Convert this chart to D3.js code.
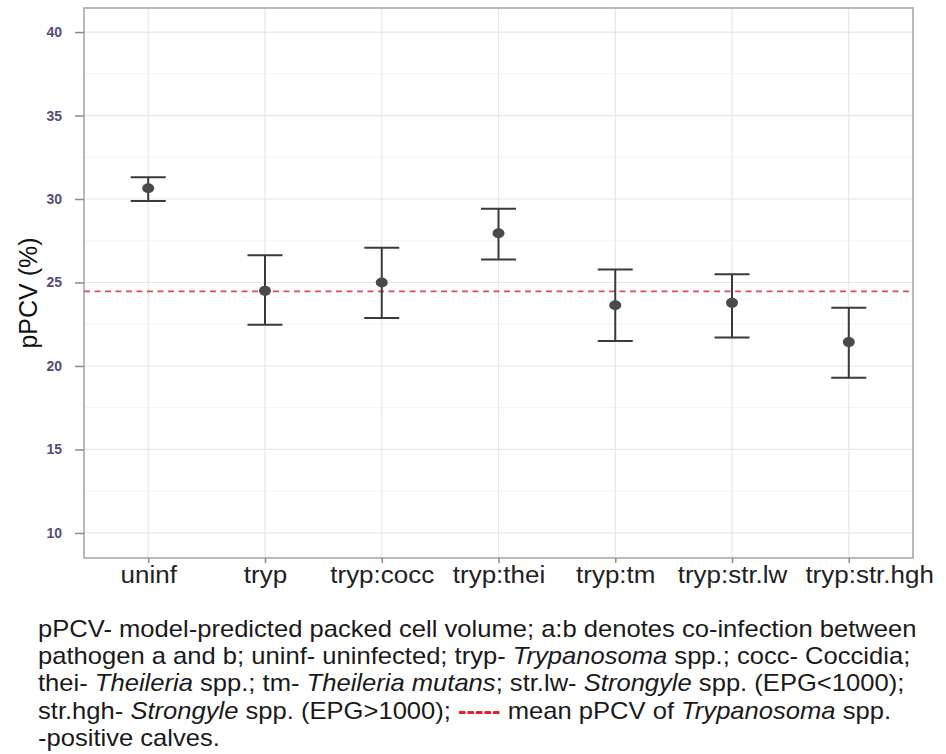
<!DOCTYPE html>
<html>
<head>
<meta charset="utf-8">
<title>pPCV by infection group</title>
<script src="https://cdn.jsdelivr.net/npm/d3@7"></script>
<style>
  body { margin: 0; background: #fff; }
  svg { font-family: "Liberation Sans", Arial, sans-serif; }
</style>
</head>
<body>
<div id="chart"></div>
<script>
// values
var groups = ["uninf", "tryp", "tryp:cocc", "tryp:thei", "tryp:tm", "tryp:str.lw", "tryp:str.hgh"];
var estimate = [30.64, 24.5, 25.0, 27.95, 23.64, 23.78, 21.43];
var lowerCI = [29.88, 22.47, 22.88, 26.38, 21.49, 21.7, 19.29];
var upperCI = [31.3, 26.63, 27.08, 29.42, 25.78, 25.5, 23.49];
var trypMean = 24.47;
var yTicks = [10, 15, 20, 25, 30, 35, 40];
var yMinor = [12.5, 17.5, 22.5, 27.5, 32.5, 37.5];

var W = 946, H = 754;
var panel = {left: 84, right: 913, top: 8, bottom: 558};

var svg = d3.select("#chart").append("svg")
  .attr("width", W).attr("height", H);

var x = d3.scalePoint().domain(groups)
  .range([panel.left, panel.right]).padding(0.55);
var y = d3.scaleLinear().domain([8.5, 41.44])
  .range([panel.bottom, panel.top]);

var rows = groups.map(function(g, i) {
  return {g: g, est: estimate[i], lo: lowerCI[i], hi: upperCI[i]};
});

// grid
svg.append("g").selectAll("line").data(yMinor).join("line")
  .attr("x1", panel.left).attr("x2", panel.right)
  .attr("y1", d => y(d)).attr("y2", d => y(d))
  .attr("stroke", "#f3f3f3").attr("stroke-width", 1);
svg.append("g").selectAll("line").data(yTicks).join("line")
  .attr("x1", panel.left).attr("x2", panel.right)
  .attr("y1", d => y(d)).attr("y2", d => y(d))
  .attr("stroke", "#e6e6e6").attr("stroke-width", 1.2);
svg.append("g").selectAll("line").data(groups).join("line")
  .attr("x1", d => x(d)).attr("x2", d => x(d))
  .attr("y1", panel.top).attr("y2", panel.bottom)
  .attr("stroke", "#e6e6e6").attr("stroke-width", 1.2);

// panel border
svg.append("rect")
  .attr("x", panel.left).attr("y", panel.top)
  .attr("width", panel.right - panel.left).attr("height", panel.bottom - panel.top)
  .attr("fill", "none").attr("stroke", "#a8a8a8").attr("stroke-width", 1.6);

// axes
var yAxis = d3.axisLeft(y).tickValues(yTicks).tickSize(9).tickPadding(13);
var gy = svg.append("g").attr("transform", "translate(" + panel.left + ",0)").call(yAxis);
gy.select(".domain").remove();
gy.selectAll(".tick line").attr("stroke", "#8a8a8a").attr("stroke-width", 1.5);
gy.selectAll(".tick text").attr("fill", "#5a4a78").style("font-size", "14px").style("font-weight", "bold");

var xAxis = d3.axisBottom(x).tickSize(5).tickPadding(5);
var gx = svg.append("g").attr("transform", "translate(0," + panel.bottom + ")").call(xAxis);
gx.select(".domain").remove();
gx.selectAll(".tick line").attr("stroke", "#8a8a8a").attr("stroke-width", 1.5);
var xt = gx.selectAll(".tick text").attr("fill", "#222").style("font-size", "23px")
  .attr("y", 25).attr("dy", null)
  .attr("transform", "scale(1.13,1)");

// nudge a label right if it runs into the one before it (last one in the figure)
var prevRight = -Infinity;
xt.each(function(d) {
  var half = this.getComputedTextLength() * 1.13 / 2;
  var left = x(d) - half, shift = 0;
  if (left < prevRight + 18) shift = prevRight + 18 - left;
  if (shift) d3.select(this).attr("x", shift / 1.13);
  prevRight = x(d) + half + shift;
});

svg.append("text")
  .attr("transform", "translate(37,293) rotate(-90)")
  .attr("text-anchor", "middle")
  .style("font-size", "25px").attr("fill", "#111")
  .text("pPCV (%)");

// mean line
svg.append("line")
  .attr("x1", panel.left).attr("x2", panel.right)
  .attr("y1", y(trypMean)).attr("y2", y(trypMean))
  .attr("stroke", "#e04a5a").attr("stroke-width", 1.6)
  .attr("stroke-dasharray", "6,4.5");

// error bars
var eb = svg.append("g").selectAll("g").data(rows).join("g");
var cap = 17.5;
eb.append("line")
  .attr("x1", d => x(d.g)).attr("x2", d => x(d.g))
  .attr("y1", d => y(d.lo)).attr("y2", d => y(d.hi))
  .attr("stroke", "#3a3a3a").attr("stroke-width", 2);
eb.append("line")
  .attr("x1", d => x(d.g) - cap).attr("x2", d => x(d.g) + cap)
  .attr("y1", d => y(d.hi)).attr("y2", d => y(d.hi))
  .attr("stroke", "#3a3a3a").attr("stroke-width", 2);
eb.append("line")
  .attr("x1", d => x(d.g) - cap).attr("x2", d => x(d.g) + cap)
  .attr("y1", d => y(d.lo)).attr("y2", d => y(d.lo))
  .attr("stroke", "#3a3a3a").attr("stroke-width", 2);
eb.append("ellipse")
  .attr("cx", d => x(d.g)).attr("cy", d => y(d.est))
  .attr("rx", 6).attr("ry", 5)
  .attr("fill", "#4a4a4a");

// caption, [text, italic] pieces per line
var caption = [
  [["pPCV- model-predicted packed cell volume; a:b denotes co-infection between", false]],
  [["pathogen a and b; uninf- uninfected; tryp- ", false], ["Trypanosoma", true], [" spp.; cocc- Coccidia;", false]],
  [["thei- ", false], ["Theileria", true], [" spp.; tm- ", false], ["Theileria mutans", true], ["; str.lw- ", false], ["Strongyle", true], [" spp. (EPG<1000);", false]],
  [["str.hgh- ", false], ["Strongyle", true], [" spp. (EPG>1000); ", false], ["-----", false, "red"], [" mean pPCV of ", false], ["Trypanosoma", true], [" spp.", false]],
  [["-positive calves.", false]]
];
var capY = [637, 664, 691, 719, 746];
var cap0 = svg.append("g");
caption.forEach(function(line, i) {
  var t = cap0.append("text").attr("x", 0).attr("y", capY[i])
    .style("font-size", "23px").attr("fill", "#1a1a1a");
  line.forEach(function(p) {
    var s = t.append("tspan").text(p[0]);
    if (p[1]) s.style("font-style", "italic");
    if (p[2]) s.attr("fill", "#e02020").style("font-weight", "bold");
  });
});
// stretch caption horizontally so the first line spans like the figure
var w1 = cap0.select("text").node().getComputedTextLength();
var sx = (917 - 38) / w1;
cap0.attr("transform", "translate(38,0) scale(" + sx + ",1)");
</script>
</body>
</html>
